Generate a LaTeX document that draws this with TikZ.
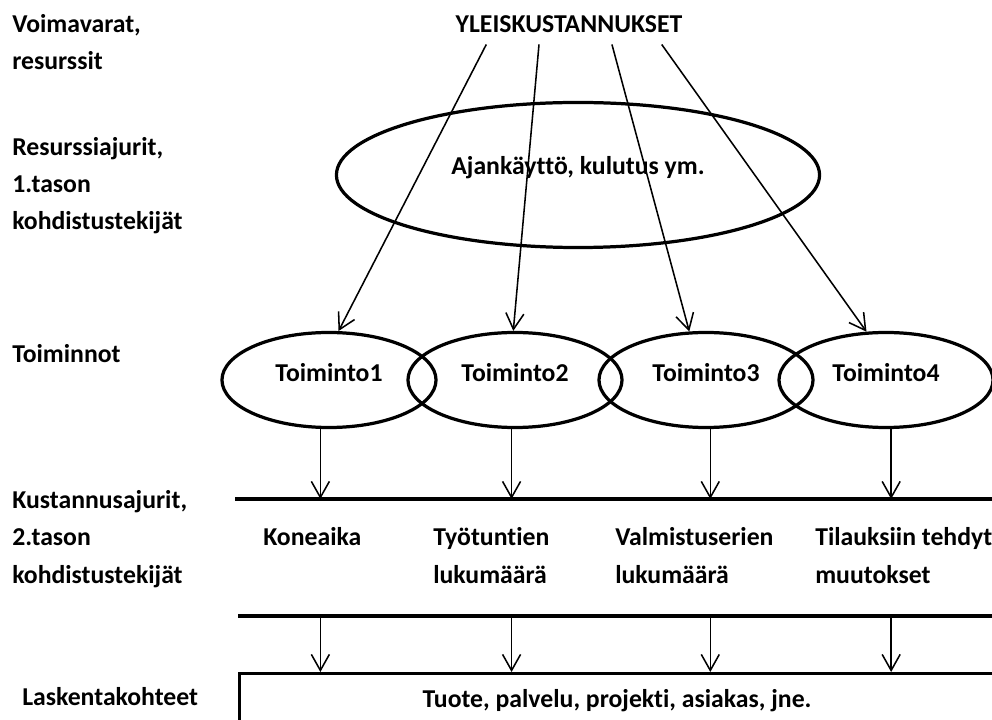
\documentclass[tikz,border=0pt]{standalone}
\usepackage{fontspec}
\setmainfont{Carlito}[BoldFont={Carlito Bold}, Ligatures={NoCommon}]
\usetikzlibrary{arrows.meta,calc,positioning,shapes.geometric}

\begin{document}
\begin{tikzpicture}[
    x=0.025cm,
    y=-0.025cm,
    >={Straight Barb[length=4mm, width=4.5mm]},
    txt/.style={font=\fontsize{18.3}{26.5}\selectfont\bfseries, align=left, inner sep=0pt},
    side/.style={txt, anchor=base west},
    oval/.style={draw, ellipse, line width=2.3pt, inner sep=0pt, font=\fontsize{18.3}{26.5}\selectfont\bfseries},
    act/.style={oval, minimum width=5.35cm, minimum height=2.375cm, text height=0.4cm, text depth=0.3cm},
    rule/.style={line width=2.3pt},
    arr/.style={->, line width=1.1pt}
]
\useasboundingbox (0,0) rectangle (992,720);
\clip (0,0) rectangle (992,720);

% left column
\node[side] (lvoim) at (12,70) {Voimavarat,\\resurssit};
\node[side] (lres) at (12,230) {Resurssiajurit,\\1.tason\\kohdistustekijät};
\node[side] (ltoim) at (12,363) {Toiminnot};
\node[side] (lkust) at (12,583) {Kustannusajurit,\\2.tason\\kohdistustekijät};
\node[side] (llask) at (22,705) {Laskentakohteet};

% overheads and resource drivers
\node[txt, anchor=base] (yleis) at (569,33) {YLEISKUSTANNUKSET};
\node[oval, minimum width=12.075cm, minimum height=3.625cm, text height=0.4cm, text depth=0.4cm] (ajan) at (578,175) {Ajankäyttö, kulutus ym.};

% activities
\node[act] (t1) at (329,380) {Toiminto1};
\node[act] (t2) at (515,380) {Toiminto2};
\node[act] (t3) at (706,380) {Toiminto3};
\node[act] (t4) at (886,380) {Toiminto4};

\draw[arr] ($(yleis.south west)!0.136!(yleis.south east) + (0,11)$) -- (t1.79);
\draw[arr] ($(yleis.south west)!0.368!(yleis.south east) + (0,11)$) -- (t2.92);
\draw[arr] ($(yleis.south west)!0.689!(yleis.south east) + (0,11)$) -- (t3.109);
\draw[arr] ($(yleis.south west)!0.908!(yleis.south east) + (0,11)$) -- (t4.112);

% cost drivers
\coordinate (r1a) at (235,499);
\coordinate (r1b) at (1000,499);
\coordinate (r2a) at (238,616);
\coordinate (r2b) at (1000,616);
\draw[rule] (r1a) -- (r1b);
\draw[rule] (r2a) -- (r2b);

\node[side] (kone) at (263,545.5) {Koneaika};
\node[side] (tyot) at (433,583) {Työtuntien\\lukumäärä};
\node[side] (valm) at (615,583) {Valmistuserien\\lukumäärä};
\node[side] (tila) at (815,583) {Tilauksiin tehdyt\\muutokset};

% cost objects
\node[draw, line width=2.3pt, anchor=north west, minimum width=19.05cm, minimum height=1.5cm, txt] (kohde) at (238,672) {};
\node[txt, anchor=base] (kohdetxt) at (617,707) {Tuote, palvelu, projekti, asiakas, jne.};

\foreach \t/\a in {t1/260, t2/266, t3/275, t4/276} {
    \draw[arr] (\t.\a) -- (\t.\a |- r1a);
    \draw[arr] (\t.\a |- r2a) -- (\t.\a |- kohde.north);
}
\end{tikzpicture}
\end{document}
